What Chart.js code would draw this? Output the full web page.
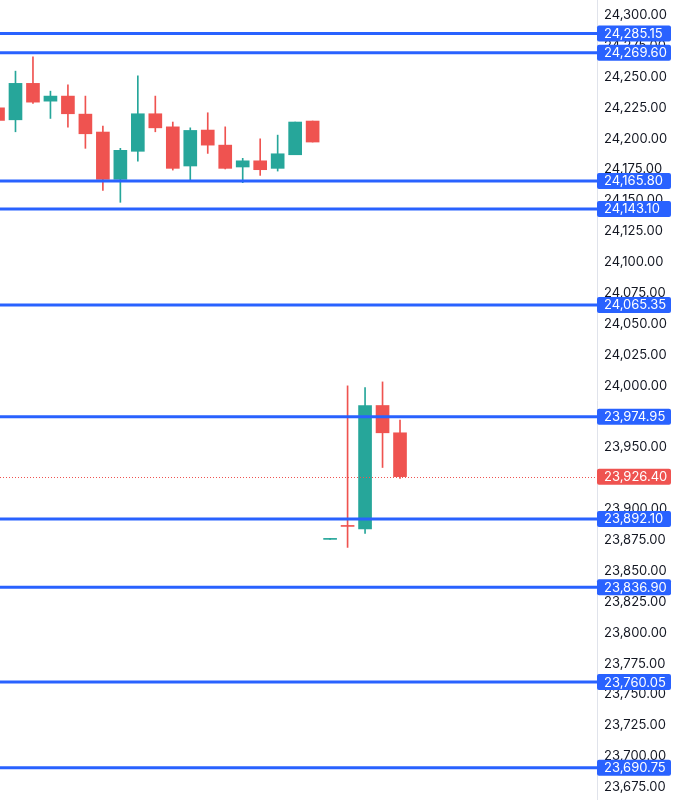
<!DOCTYPE html>
<html>
<head>
<meta charset="utf-8">
<script src="https://cdn.jsdelivr.net/npm/chart.js@4"></script>
<style>
    html, body { margin: 0; padding: 0; background: #ffffff; }
    #wrap { width: 675px; height: 800px; position: relative; }
</style>
</head>
<body>
<div id="wrap"><canvas id="priceChart"></canvas></div>
<script>
// candle values, oldest first (index = bar number)
const opens  = [24225.0, 24215.3, 24244.8, 24230.4, 24234.5, 24219.9, 24205.4, 24167.1, 24189.8, 24220.2, 24209.6, 24177.9,
                24207.0, 24194.8, 24177.1, 24182.1, 24176.0, 24187.0, 24214.3, 23875.6, 23886.1, 23884.0, 23984.0, 23961.9];
const highs  = [24227.0, 24254.7, 24266.3, 24238.5, 24243.6, 24234.5, 24210.2, 24192.2, 24250.9, 24234.5, 24213.5, 24208.8,
                24221.0, 24209.6, 24184.1, 24199.9, 24202.9, 24213.5, 24214.3, 23876.4, 23999.9, 23998.5, 24003.1, 23972.2];
const lows   = [24212.0, 24205.6, 24228.6, 24216.4, 24209.4, 24192.2, 24158.2, 24148.5, 24181.9, 24205.6, 24174.6, 24166.5,
                24188.1, 24175.5, 24164.4, 24170.3, 24173.8, 24187.0, 24197.3, 23875.6, 23869.1, 23880.4, 23933.8, 23925.0];
const closes = [24214.8, 24244.8, 24229.6, 24234.5, 24220.2, 24204.0, 24167.1, 24190.6, 24220.2, 24208.8, 24176.0, 24206.7,
                24194.8, 24176.0, 24182.1, 24174.9, 24187.8, 24213.5, 24197.3, 23876.4, 23886.1, 23984.0, 23961.9, 23926.4];

// horizontal levels drawn across the chart
const levels = [24285.15, 24269.60, 24165.80, 24143.10, 24065.35, 23974.95, 23892.10, 23836.90, 23760.05, 23690.75];
const lastPrice = 23926.40;

const UP = '#26a69a';
const DOWN = '#ef5350';
const LEVEL_BLUE = '#2962ff';
const FONT = '"Inter", "Roboto", sans-serif';

function fmt(v) {
    return Number(v).toLocaleString('en-US', { minimumFractionDigits: 2, maximumFractionDigits: 2 });
}

const candleColors = opens.map((o, i) => closes[i] > o ? UP : DOWN);

const levelPlugin = {
    id: 'levels',
    afterDraw(chart) {
        const ctx = chart.ctx;
        const y = chart.scales.y;
        const area = chart.chartArea;
        ctx.save();

        // last price dotted line
        const py = Math.round(y.getPixelForValue(lastPrice)) + 0.5;
        ctx.strokeStyle = DOWN;
        ctx.lineWidth = 1;
        ctx.setLineDash([1, 2]);
        ctx.beginPath();
        ctx.moveTo(area.left, py);
        ctx.lineTo(area.right, py);
        ctx.stroke();
        ctx.setLineDash([]);

        levels.forEach((lv) => {
            const ly = y.getPixelForValue(lv);
            ctx.strokeStyle = LEVEL_BLUE;
            ctx.lineWidth = 3;
            ctx.beginPath();
            ctx.moveTo(area.left, ly);
            ctx.lineTo(area.right, ly);
            ctx.stroke();
        });

        function tag(value, color) {
            const ty = y.getPixelForValue(value);
            ctx.fillStyle = color;
            ctx.beginPath();
            ctx.roundRect(area.right, ty - 8, 74, 16, 2);
            ctx.fill();
            ctx.fillStyle = '#ffffff';
            ctx.font = '13px ' + FONT;
            ctx.textAlign = 'left';
            ctx.textBaseline = 'middle';
            ctx.fillText(fmt(value), area.right + 7, ty + 0.5);
        }
        levels.forEach((lv) => tag(lv, LEVEL_BLUE));
        tag(lastPrice, DOWN);

        ctx.restore();
    }
};

new Chart(document.getElementById('priceChart'), {
    type: 'bar',
    data: {
        datasets: [
            {
                label: 'wicks',
                data: lows.map((l, i) => ({ x: i, y: [l, highs[i]] })),
                backgroundColor: candleColors,
                barThickness: 1,
                grouped: false,
                order: 2
            },
            {
                label: 'bodies',
                data: opens.map((o, i) => ({ x: i, y: [o, closes[i]] })),
                backgroundColor: candleColors,
                barThickness: 13,
                minBarLength: 1,
                grouped: false,
                order: 1
            }
        ]
    },
    options: {
        responsive: true,
        maintainAspectRatio: false,
        animation: false,
        layout: { padding: 0 },
        plugins: {
            legend: { display: false },
            tooltip: { enabled: false }
        },
        scales: {
            x: {
                type: 'linear',
                display: false,
                offset: false,
                min: 0.114,
                max: 34.27
            },
            y: {
                position: 'right',
                min: 23664.6,
                max: 24312.3,
                grid: { display: false, drawTicks: false },
                border: { display: true, color: '#e0e3eb' },
                ticks: {
                    stepSize: 25,
                    includeBounds: false,
                    autoSkip: false,
                    padding: 7,
                    color: '#131722',
                    font: { family: FONT, size: 13 },
                    callback: (value) => fmt(value)
                },
                afterFit(scale) {
                    scale.width = 78;
                    scale.paddingTop = 0;
                    scale.paddingBottom = 0;
                }
            }
        }
    },
    plugins: [levelPlugin]
});
</script>
</body>
</html>
